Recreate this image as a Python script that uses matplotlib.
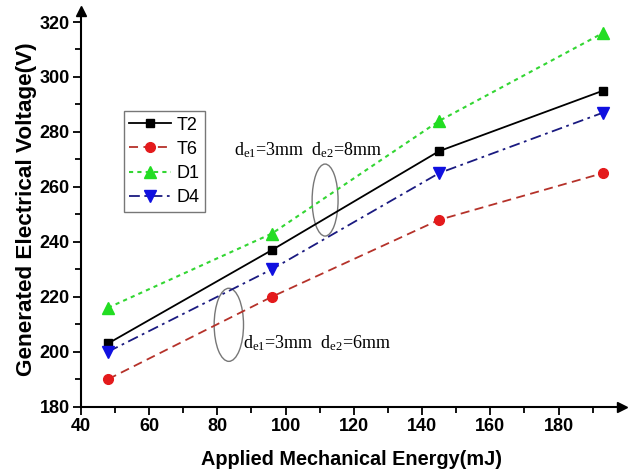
import matplotlib
matplotlib.use("Agg")
import matplotlib.pyplot as plt
from matplotlib.patches import Ellipse

plt.rcParams['font.family'] = ['Liberation Sans', 'DejaVu Sans']
plt.rcParams['mathtext.fontset'] = 'custom'
plt.rcParams['mathtext.rm'] = 'Liberation Serif'

energy = [48, 96, 145, 193]
T2 = [203, 237, 273, 295]
T6 = [190, 220, 248, 265]
D1 = [216, 243, 284, 316]
D4 = [200, 230, 265, 287]
x_ticks = [40, 60, 80, 100, 120, 140, 160, 180]
y_ticks = [180, 200, 220, 240, 260, 280, 300, 320]

fig = plt.figure(figsize=(6.28, 4.75), dpi=100)
ax = fig.add_axes([0.1285, 0.1438, 0.8615, 0.833])

ax.plot(energy, T2, color='black', ls='-', lw=1.3, marker='s', ms=6, mfc='black', mec='black', label='T2')
ax.plot(energy, T6, color='#b5322a', ls=(0, (5, 3)), lw=1.3, marker='o', ms=7, mfc='#e41a1c', mec='#e41a1c', label='T6')
ax.plot(energy, D1, color='#33d633', ls=(0, (2, 2)), lw=1.5, marker='^', ms=8, mfc='#22dd22', mec='#22dd22', label='D1')
ax.plot(energy, D4, color='#1a1a80', ls=(0, (6, 2.5, 1.5, 2.5)), lw=1.3, marker='v', ms=8, mfc='#1010e0', mec='#1010e0', label='D4')

ax.set_xlim(40, 198.5)
ax.set_ylim(180, 324)
ax.set_xticks(x_ticks)
ax.set_yticks(y_ticks)
ax.set_xticks([v + 10 for v in x_ticks], minor=True)
ax.set_yticks([v + 10 for v in y_ticks[:-1]], minor=True)
ax.tick_params(which='major', direction='out', length=6, width=1.3, labelsize=13, pad=2)
ax.tick_params(which='minor', direction='out', length=4, width=1.3)
for lab in ax.get_xticklabels() + ax.get_yticklabels():
    lab.set_fontweight('bold')
for s in ['top', 'right']:
    ax.spines[s].set_visible(False)
for s in ['left', 'bottom']:
    ax.spines[s].set_linewidth(1.5)

# axis arrows
ax.plot(1, 0, '>', color='black', ms=7, transform=ax.transAxes, clip_on=False)
ax.plot(0, 1, '^', color='black', ms=7, transform=ax.transAxes, clip_on=False)

ax.set_xlabel('Applied Mechanical Energy(mJ)', fontsize=14.3, fontweight='bold', labelpad=11)
ax.set_ylabel('Generated Electrical Voltage(V)', fontsize=16.2, fontweight='bold')
ax.yaxis.set_label_coords(-0.081, 0.50)

leg = ax.legend(loc='upper left', bbox_to_anchor=(0.08, 0.747), fontsize=13, frameon=True,
                fancybox=False, edgecolor='#555555', handlelength=2.3, handletextpad=0.3,
                borderpad=0.3, labelspacing=0.4, borderaxespad=0)
leg.get_frame().set_linewidth(1.0)

ax.add_patch(Ellipse((111.6, 255.2), 7.6, 26.2, fill=False, ec='#777777', lw=1.0))
ax.add_patch(Ellipse((83.4, 209.8), 8.6, 26.6, fill=False, ec='#777777', lw=1.0))
ax.text(84.8, 271.4, r'$\mathrm{d_{e1}}$=3mm  $\mathrm{d_{e2}}$=8mm', fontsize=13,
        family='Liberation Serif', ha='left', va='baseline')
ax.text(87.5, 201.4, r'$\mathrm{d_{e1}}$=3mm  $\mathrm{d_{e2}}$=6mm', fontsize=13,
        family='Liberation Serif', ha='left', va='baseline')

fig.savefig('out.png', dpi=100)
